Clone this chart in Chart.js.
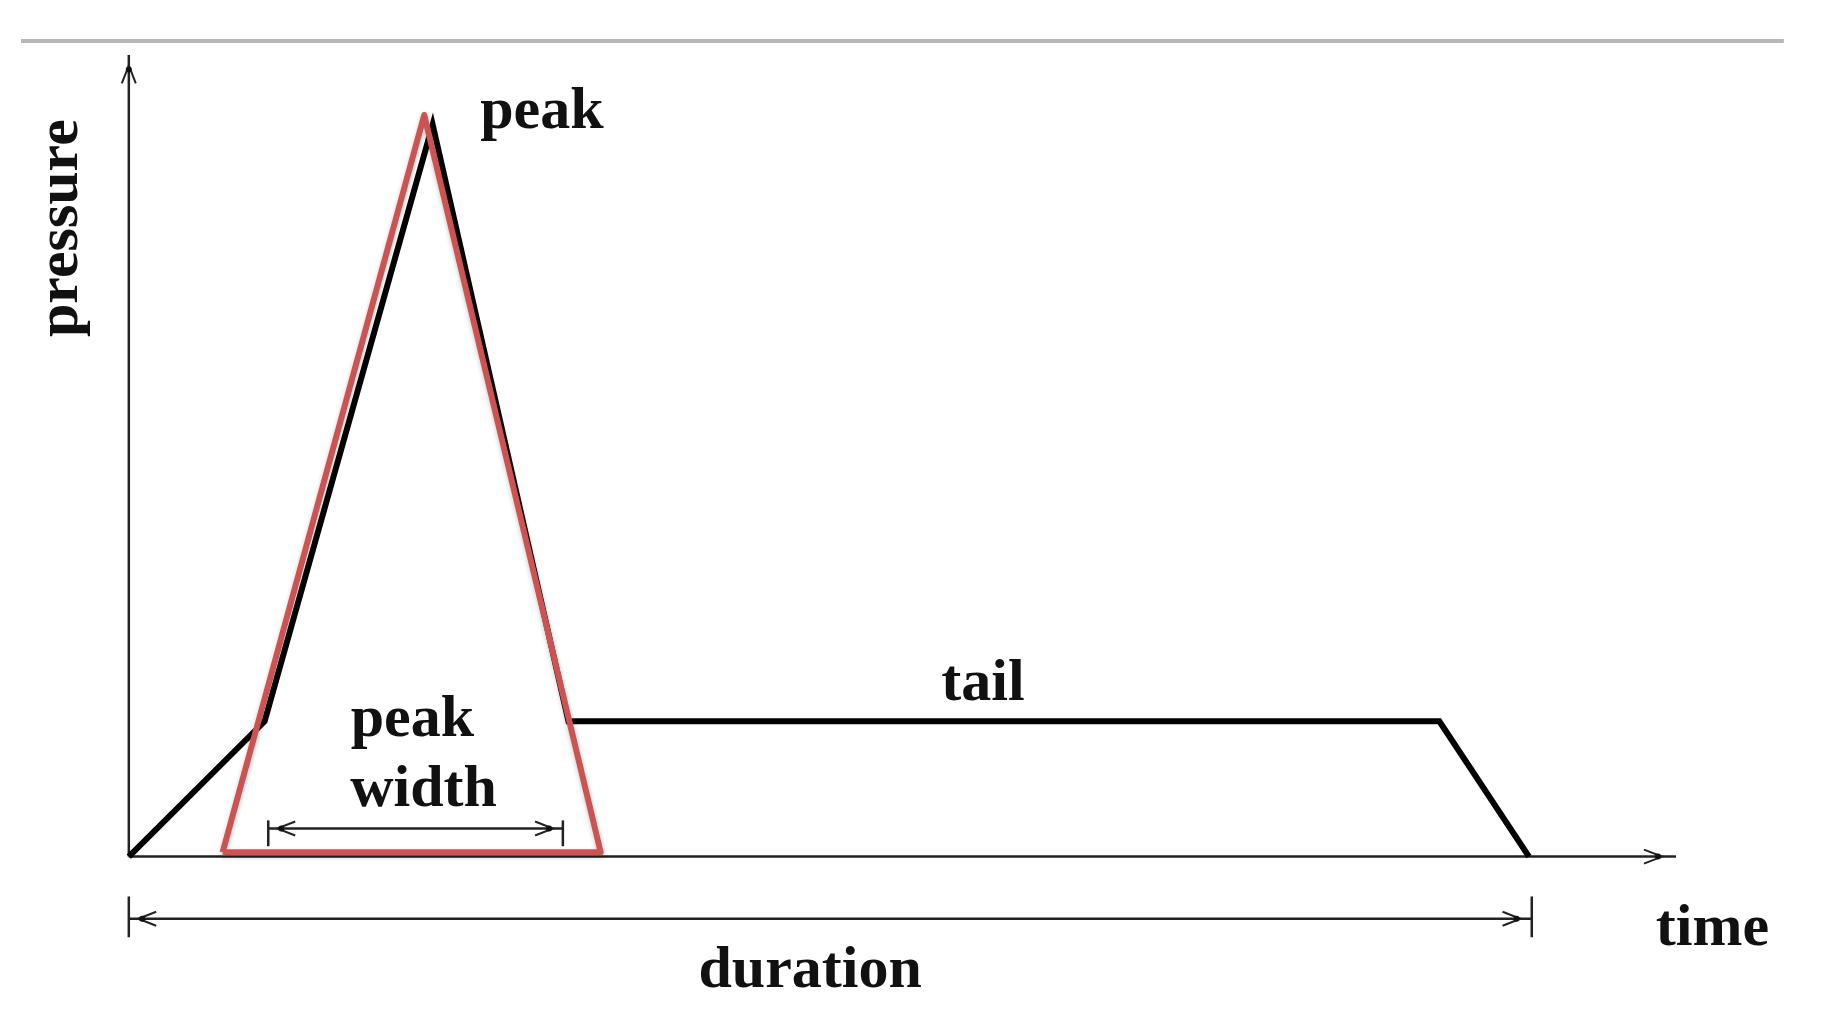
<!DOCTYPE html>
<html>
<head>
<meta charset="utf-8">
<script src="https://cdn.jsdelivr.net/npm/chart.js@4.4.1/dist/chart.umd.min.js"></script>
<style>
  html, body { margin: 0; padding: 0; background: #fff; }
  #wrap { width: 1837px; height: 1030px; position: relative; }
</style>
</head>
<body>
<div id="wrap"><canvas id="pulseChart"></canvas></div>
<script>
// pressure pulse (black): time / pressure, peak = 100, duration = 100
const pulseTime = [0, 9.7, 21.7, 31.4, 93.6, 100];
const pulsePressure = [0, 18.3, 99.0, 18.3, 18.3, 0];

// idealised peak (red triangle)
const peakTime = [6.7, 21.1, 33.7, 6.7];
const peakPressure = [0.6, 100.3, 0.6, 0.6];

// axes
const timeAxisEnd = 110.5;
const pressureAxisEnd = 108.4;

// dimension markers
const peakWidthFrom = 9.96, peakWidthTo = 31.0, peakWidthLevel = 3.8;
const durationFrom = 0, durationTo = 100.2, durationLevel = -8.4;

// labels: text, x, y (baseline), rotation
const labelTexts = ['peak', 'tail', 'peak', 'width', 'time', 'duration', 'pressure'];
const labelX = [29.5, 61.0, 20.25, 21.05, 113.1, 48.66, -3.7];
const labelY = [98.5, 21.2, 16.3, 6.8, -12.0, -17.7, 85.0];
const labelRot = [0, 0, 0, 0, 0, 0, -90];

const seg = (xs, ys) => xs.map((x, i) => ({ x, y: ys[i] }));

const arrowPlugin = {
  id: 'arrows',
  beforeDatasetDraw(chart, args) {
    const ds = chart.data.datasets[args.index];
    if (ds.shadow) {
      const c = chart.ctx;
      c.save();
      c.shadowColor = 'rgba(0,0,0,.22)';
      c.shadowBlur = 5;
      c.shadowOffsetY = 2;
    }
  },
  afterDatasetDraw(chart, args) {
    if (chart.data.datasets[args.index].shadow) chart.ctx.restore();
  },
  afterDraw(chart) {
    const { ctx, scales: { x, y } } = chart;
    const head = (tx, ty, dir) => {
      const px = x.getPixelForValue(tx), py = y.getPixelForValue(ty);
      const L = 18, H = 7;
      ctx.save();
      ctx.translate(px, py);
      ctx.rotate(dir);
      ctx.strokeStyle = '#222';
      ctx.lineWidth = 2;
      ctx.beginPath();
      ctx.moveTo(-L, -H); ctx.lineTo(0, 0); ctx.lineTo(-L, H);
      ctx.stroke();
      ctx.fillStyle = '#111';
      ctx.beginPath();
      ctx.arc(-4, 0, 3, 0, Math.PI * 2);
      ctx.fill();
      ctx.restore();
    };
    head(0, 107.0, -Math.PI / 2);
    head(109.5, 0, 0);
    head(10.6, peakWidthLevel, Math.PI);
    head(30.3, peakWidthLevel, 0);
    head(0.67, durationLevel, Math.PI);
    head(99.4, durationLevel, 0);

    ctx.save();
    ctx.fillStyle = '#111';
    ctx.font = 'bold 60px "Liberation Serif", "DejaVu Serif", serif';
    ctx.textAlign = 'center';
    ctx.textBaseline = 'alphabetic';
    labelTexts.forEach((t, i) => {
      ctx.save();
      ctx.translate(x.getPixelForValue(labelX[i]), y.getPixelForValue(labelY[i]));
      ctx.rotate(labelRot[i] * Math.PI / 180);
      ctx.fillText(t, 0, 0);
      ctx.restore();
    });
    ctx.restore();
  }
};

const thin = { borderColor: '#222', borderWidth: 2.5, order: 3 };

new Chart(document.getElementById('pulseChart'), {
  type: 'scatter',
  data: {
    datasets: [
      { label: 'peak', data: seg(peakTime, peakPressure), borderColor: '#cd5252', borderWidth: 6, order: 0, shadow: true, borderJoinStyle: 'round' },
      { label: 'pulse', data: seg(pulseTime, pulsePressure), borderColor: '#000', borderWidth: 6, order: 1 },
      { label: 'separator', data: seg([-7.7, 118.2], [110.3, 110.3]), borderColor: '#b8b8b8', borderWidth: 4, order: 4 },
      { label: 'time axis', data: seg([0, timeAxisEnd], [0, 0]), ...thin },
      { label: 'pressure axis', data: seg([0, 0], [0, pressureAxisEnd]), ...thin },
      { label: 'peak width', data: seg([peakWidthFrom, peakWidthTo], [peakWidthLevel, peakWidthLevel]), ...thin },
      { label: 'pw tick 1', data: seg([peakWidthFrom, peakWidthFrom], [1.4, 4.9]), ...thin },
      { label: 'pw tick 2', data: seg([peakWidthTo, peakWidthTo], [1.4, 4.9]), ...thin },
      { label: 'duration', data: seg([durationFrom, durationTo], [durationLevel, durationLevel]), ...thin },
      { label: 'dur tick 1', data: seg([durationFrom, durationFrom], [-5.4, -10.9]), ...thin },
      { label: 'dur tick 2', data: seg([durationTo, durationTo], [-5.4, -10.9]), ...thin }
    ].map(d => ({ showLine: true, pointRadius: 0, fill: false, tension: 0, ...d }))
  },
  options: {
    responsive: true,
    maintainAspectRatio: false,
    animation: false,
    layout: { padding: 0 },
    scales: {
      x: { type: 'linear', min: -9.2, max: 122.0, display: false },
      y: { type: 'linear', min: -23.45, max: 115.85, display: false }
    },
    plugins: { legend: { display: false }, tooltip: { enabled: false } }
  },
  plugins: [arrowPlugin]
});
</script>
</body>
</html>
